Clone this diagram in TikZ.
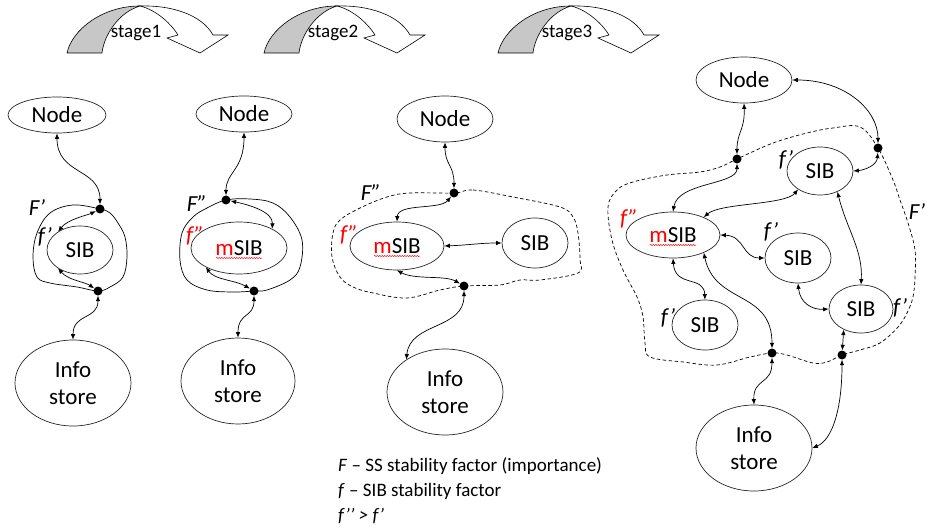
\documentclass[tikz,border=0pt]{standalone}
\usepackage{fontspec}
\setmainfont{Carlito}
\usetikzlibrary{arrows.meta,shapes.geometric,decorations.pathmorphing}
\newcommand\stagearr[2]{%
\begin{scope}[shift={(#1,0)}]
\draw[line width=0.6pt,fill=black!22] (0,53) .. controls (5,30) and (35,6) .. (73,6) .. controls (52,12) and (37,35) .. (35,53) -- cycle;
\draw[line width=0.6pt,fill=white] (73,6) .. controls (105,5) and (135,15) .. (146,35) -- (161,35) -- (133,53) -- (100,38) -- (111,35) .. controls (105,25) and (90,10) .. (73,6) -- cycle;
\node[font=\fontsize{19}{19}\selectfont,inner sep=0pt] at (69,33) {#2};
\end{scope}}
\begin{document}
\begin{tikzpicture}[x=1pt,y=-1pt,
  ell/.style={draw=black!85,line width=0.7pt,ellipse,inner sep=0pt,align=center,font=\fontsize{23}{27}\selectfont},
  dot/.style={circle,fill=black,inner sep=0pt,minimum size=9pt},
  link/.style={line width=0.7pt,{Latex[length=5.5pt,width=4.5pt]}-{Latex[length=5.5pt,width=4.5pt]}},
  lab/.style={font=\fontsize{23}{23}\selectfont\itshape,inner sep=0pt},
  bound/.style={line width=0.7pt},
  dbound/.style={line width=0.7pt,dash pattern=on 3.5pt off 2.5pt},
  squig/.style={red,line width=0.5pt,decorate,decoration={snake,amplitude=0.6pt,segment length=2.5pt}},
  legend/.style={anchor=west,inner sep=0pt,font=\fontsize{19}{19}\selectfont}]
\useasboundingbox (0,0) rectangle (927,532);

% stage arrows
\stagearr{67}{stage1}
\stagearr{264}{stage2}
\stagearr{498}{stage3}

% ---------- panel 1 ----------
\draw[bound] plot[smooth cycle,tension=0.6] coordinates {(100,209) (73,205) (50,213) (37,233) (33,257) (37,277) (50,283) (77,287) (98,291) (110,287) (123,277) (127,257) (125,237) (118,223) (110,213)};
\node[ell,minimum width=98pt,minimum height=36pt] (N1) at (57,115) {Node};
\node[ell,minimum width=66pt,minimum height=48pt] (S1) at (80,250) {SIB};
\node[ell,minimum width=116pt,minimum height=86pt] (I1) at (73,383) {Info\\store};
\node[dot] (D1a) at (100,209) {};
\node[dot] (D1b) at (98,291) {};
\node[lab] (L1a) at (37,208) {F’};
\node[lab] (L1b) at (45,237) {f’};
\draw[link] (N1.south) .. controls (57,175) and (100,168) .. (D1a);
\draw[link] (D1a) .. controls (88,215) and (68,219) .. (S1.140);
\draw[link] (S1.220) .. controls (68,280) and (85,282) .. (D1b);
\draw[link] (D1b) .. controls (98,320) and (73,313) .. (I1.north);

% ---------- panel 2 ----------
\draw[bound] plot[smooth cycle,tension=0.6] coordinates {(226,200) (250,199) (273,203) (290,217) (302,240) (300,267) (290,280) (267,290) (254,291) (233,292) (207,290) (187,280) (180,260) (182,233) (193,217) (207,208)};
\node[ell,minimum width=96pt,minimum height=36pt] (N2) at (244,114) {Node};
\node[ell,minimum width=96pt,minimum height=52pt] (M2) at (239,248) {{\color{red}m}SIB};
\node[ell,minimum width=114pt,minimum height=86pt] (I2) at (238,381) {Info\\store};
\node[dot] (D2a) at (226,200) {};
\node[dot] (D2b) at (254,291) {};
\node[lab] (L2a) at (197,204) {F”};
\node[lab,text=red] (L2b) at (195,236) {f”};
\draw[squig] ([xshift=-23pt,yshift=-10pt]M2.center) -- ([xshift=23pt,yshift=-10pt]M2.center);
\draw[link] (N2.south) .. controls (244,170) and (226,172) .. (D2a);
\draw[link] (D2a) .. controls (250,205) and (273,212) .. (M2.30);
\draw[link] (M2.210) .. controls (215,280) and (235,280) .. (D2b);
\draw[link] (D2b) .. controls (254,318) and (238,312) .. (I2.north);

% ---------- panel 3 ----------
\draw[dbound] plot[smooth cycle,tension=0.6] coordinates {(454,193) (473,190) (513,197) (560,207) (573,217) (578,233) (580,260) (578,273) (540,280) (520,280) (500,285) (464,286) (440,290) (407,298) (373,293) (353,287) (340,277) (332,257) (333,233) (340,220) (360,208) (387,197) (410,193)};
\node[ell,minimum width=96pt,minimum height=46pt] (N3) at (445,119) {Node};
\node[ell,minimum width=94pt,minimum height=48pt] (M3) at (397,246) {{\color{red}m}SIB};
\node[ell,minimum width=66pt,minimum height=50pt] (S3) at (535,243) {SIB};
\node[ell,minimum width=116pt,minimum height=86pt] (I3) at (445,392) {Info\\store};
\node[dot] (D3a) at (454,193) {};
\node[dot] (D3b) at (464,286) {};
\node[lab] (L3a) at (371,193) {F”};
\node[lab,text=red] (L3b) at (349,235) {f”};
\draw[squig] ([xshift=-23pt,yshift=-10pt]M3.center) -- ([xshift=23pt,yshift=-10pt]M3.center);
\draw[link] (N3.south) .. controls (445,165) and (454,165) .. (D3a);
\draw[link] (D3a) .. controls (440,210) and (398,203) .. (M3.north);
\draw[link] (M3.east) .. controls (470,245) and (480,243) .. (S3.west);
\draw[link] (M3.south) .. controls (415,280) and (445,275) .. (D3b);
\draw[link] (D3b) .. controls (464,330) and (410,322) .. (I3.140);

% ---------- panel 4 ----------
\draw[dbound] plot[smooth cycle,tension=0.6] coordinates {(737,159) (773,143) (807,133) (833,128) (860,127) (878,148) (893,180) (900,200) (908,223) (915,250) (915,277) (913,297) (907,313) (898,327) (880,343) (860,350) (842,355) (827,362) (813,363) (787,355) (772,353) (750,357) (717,365) (683,362) (650,357) (645,343) (643,317) (637,297) (623,270) (612,240) (608,207) (617,190) (633,182) (667,175) (700,172) (720,167)};
\node[ell,minimum width=96pt,minimum height=46pt] (N4) at (744,80) {Node};
\node[ell,minimum width=66pt,minimum height=48pt] (S4a) at (820,171) {SIB};
\node[ell,minimum width=94pt,minimum height=46pt] (M4) at (673,235) {{\color{red}m}SIB};
\node[ell,minimum width=66pt,minimum height=50pt] (S4b) at (798,258) {SIB};
\node[ell,minimum width=64pt,minimum height=48pt] (S4c) at (861,309) {SIB};
\node[ell,minimum width=66pt,minimum height=50pt] (S4d) at (705,325) {SIB};
\node[ell,minimum width=116pt,minimum height=86pt] (I4) at (754,448) {Info\\store};
\node[dot] (D4a) at (737,159) {};
\node[dot] (D4b) at (878,148) {};
\node[dot] (D4c) at (772,353) {};
\node[dot] (D4d) at (842,355) {};
\node[lab] (L4a) at (786,160) {f’};
\node[lab,text=red] (L4b) at (629,219) {f”};
\node[lab] (L4c) at (771,232) {f’};
\node[lab] (L4d) at (668,318) {f’};
\node[lab] (L4e) at (900,308) {f’};
\node[lab] (L4f) at (917,212) {F’};
\draw[squig] ([xshift=-23pt,yshift=-10pt]M4.center) -- ([xshift=23pt,yshift=-10pt]M4.center);
\draw[link] (N4.south) .. controls (745,130) and (737,132) .. (D4a);
\draw[link] (N4.east) .. controls (845,80) and (878,110) .. (D4b);
\draw[link] (D4b) .. controls (877,165) and (865,170) .. (S4a.east);
\draw[link] (D4a) .. controls (737,185) and (678,182) .. (M4.north);
\draw[link] (S4a.220) .. controls (785,205) and (720,203) .. (M4.30);
\draw[link] (M4.east) .. controls (745,236) and (742,258) .. (S4b.west);
\draw[link] (S4a.-50) .. controls (847,230) and (863,250) .. (S4c.north);
\draw[link] (S4b.south) .. controls (800,303) and (812,310) .. (S4c.west);
\draw[link] (M4.south) .. controls (675,288) and (704,275) .. (S4d.north);
\draw[link] (M4.-30) .. controls (715,305) and (772,290) .. (D4c);
\draw[link] (S4c.230) -- (D4d);
\draw[link] (D4c) .. controls (772,385) and (753,378) .. (I4.north);
\draw[link] (D4d) .. controls (842,410) and (832,440) .. (I4.east);

% ---------- legend ----------
\node[legend] (G1) at (338,466) {\textit{F} – SS stability factor (importance)};
\node[legend] (G2) at (338,491) {\textit{f} – SIB stability factor};
\node[legend] (G3) at (338,516) {\textit{f’’ > f’}};
\end{tikzpicture}
\end{document}
